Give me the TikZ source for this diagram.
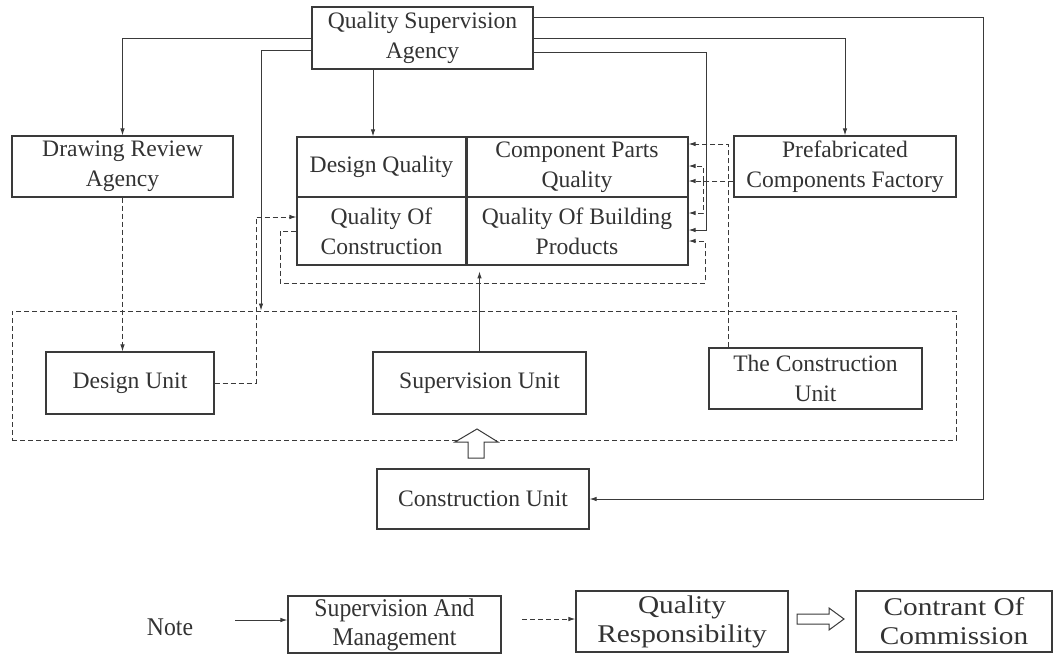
\documentclass[tikz,border=0pt]{standalone}
\usepackage{fontspec}
\setmainfont{Liberation Serif}
\newfontfamily\wideserif[FakeStretch=1.15]{Liberation Serif}
\newfontfamily\narrowserif[FakeStretch=0.93]{Liberation Serif}
\usetikzlibrary{arrows.meta}
\definecolor{ln}{HTML}{3A3A3A}
\definecolor{txt}{HTML}{333333}
\begin{document}
\begin{tikzpicture}[x=1pt,y=-1pt,
  every node/.style={font=\fontsize{23.6}{30}\selectfont, text=txt},
  box/.style={draw=ln, line width=1.2pt, inner sep=0pt, align=center, anchor=center},
  lgwide/.style={font=\wideserif\fontsize{25.5}{29}\selectfont},
  lgnarrow/.style={font=\narrowserif\fontsize{25.5}{29}\selectfont},
  sv/.style={draw=ln, line width=0.9pt, -{Latex[length=7pt,width=4.5pt]}},
  qr/.style={sv, dash pattern=on 5pt off 3pt},
  hollow/.style={draw=ln, line width=1pt, fill=white}]
\useasboundingbox (0,0) rectangle (1062,653);
% main nodes
\node[box, minimum width=221pt, minimum height=62pt] (qsa) at (422.5,38) {Quality Supervision\\Agency};
\node[box, minimum width=221pt, minimum height=61pt] (dra) at (122.5,166.5) {Drawing Review\\Agency};
\node[box, minimum width=222pt, minimum height=61pt] (pf) at (845,166.5) {Prefabricated\\Components Factory};
\node[box, minimum width=169pt, minimum height=60pt] (dq) at (381.5,167) {Design Quality};
\node[box, minimum width=222pt, minimum height=60pt] (cpq) at (577,167) {Component Parts\\Quality};
\node[box, minimum width=169pt, minimum height=68pt] (qoc) at (381.5,231) {Quality Of\\Construction};
\node[box, minimum width=222pt, minimum height=68pt] (qobp) at (577,231) {Quality Of Building\\Products};
\draw[ln, line width=2.2pt] (dq.north east) -- (qoc.south east);
\node[draw=ln, line width=1pt, dash pattern=on 5pt off 3pt, inner sep=0pt, minimum width=944pt, minimum height=129pt] (grp) at (484,375.5) {};
\node[box, minimum width=168pt, minimum height=62pt] (du) at (130,383) {Design Unit};
\node[box, minimum width=213pt, minimum height=62pt] (su) at (479.5,383) {Supervision Unit};
\node[box, minimum width=213pt, minimum height=61pt] (tcu) at (815.5,378.5) {The Construction\\Unit};
\node[box, minimum width=212pt, minimum height=60pt] (cu) at (483,499) {Construction Unit};
% solid connectors
\draw[sv] (qsa.west) -| (dra.north);
\draw[sv] (qsa.west |- 0,50) -| (grp.north -| 261,0);
\draw[sv] (qsa.south -| 373,0) -- (dq.north -| 373,0);
\draw[sv] (qsa.east |- 0,17) -- (983,17) -- (983,499) -- (cu.east);
\draw[sv] (qsa.east) -| (pf.north);
\draw[sv] (qsa.east |- 0,52) -- (706,52) -- (706,230) -- (qobp.east |- 0,230);
\draw[sv] (su.north) -- ++(0,-80);
% dashed connectors
\draw[qr] (dra.south) -- (du.north -| dra.south);
\draw[qr] (du.east) -| (256,217) -- (qoc.west |- 0,217);
\draw[qr] (qoc.west |- 0,231) -- (280,231) -- (280,283) -- (705,283) -- (705,241) -- (qobp.east |- 0,241);
\draw[qr] (pf.west |- 0,181) -- (cpq.east |- 0,181);
\draw[qr] (tcu.north -| 728,0) -- (728,144) -- (cpq.east |- 0,144);
\draw[qr] (703,181) -- (703,166) -- (cpq.east |- 0,166);
\draw[qr] (703,181) -- (703,213) -- (qobp.east |- 0,213);
% hollow arrow
\draw[hollow] (468,458) -- (468,442) -- (455,442) -- (477,429) -- (498,442) -- (484,442) -- (484,458) -- cycle;
% legend
\node[lgnarrow] (note) at (170,627) {Note};
\node[box, lgnarrow, minimum width=213pt, minimum height=57pt] (lg1) at (394.5,624.5) {Supervision And\\Management};
\node[box, lgwide, minimum width=212pt, minimum height=61pt] (lg2) at (682,621.5) {Quality\\Responsibility};
\node[box, lgwide, minimum width=196pt, minimum height=61pt] (lg3) at (954,621.5) {Contrant Of\\Commission};
\coordinate (l1s) at (235,620);
\coordinate (l2s) at (522,619);
\draw[sv] (l1s) -- (lg1.west |- l1s);
\draw[qr] (l2s) -- (lg2.west |- l2s);
\draw[hollow] (797,614) -- (829,614) -- (829,608) -- (844,619) -- (829,630) -- (829,624) -- (797,624) -- cycle;
\end{tikzpicture}
\end{document}
